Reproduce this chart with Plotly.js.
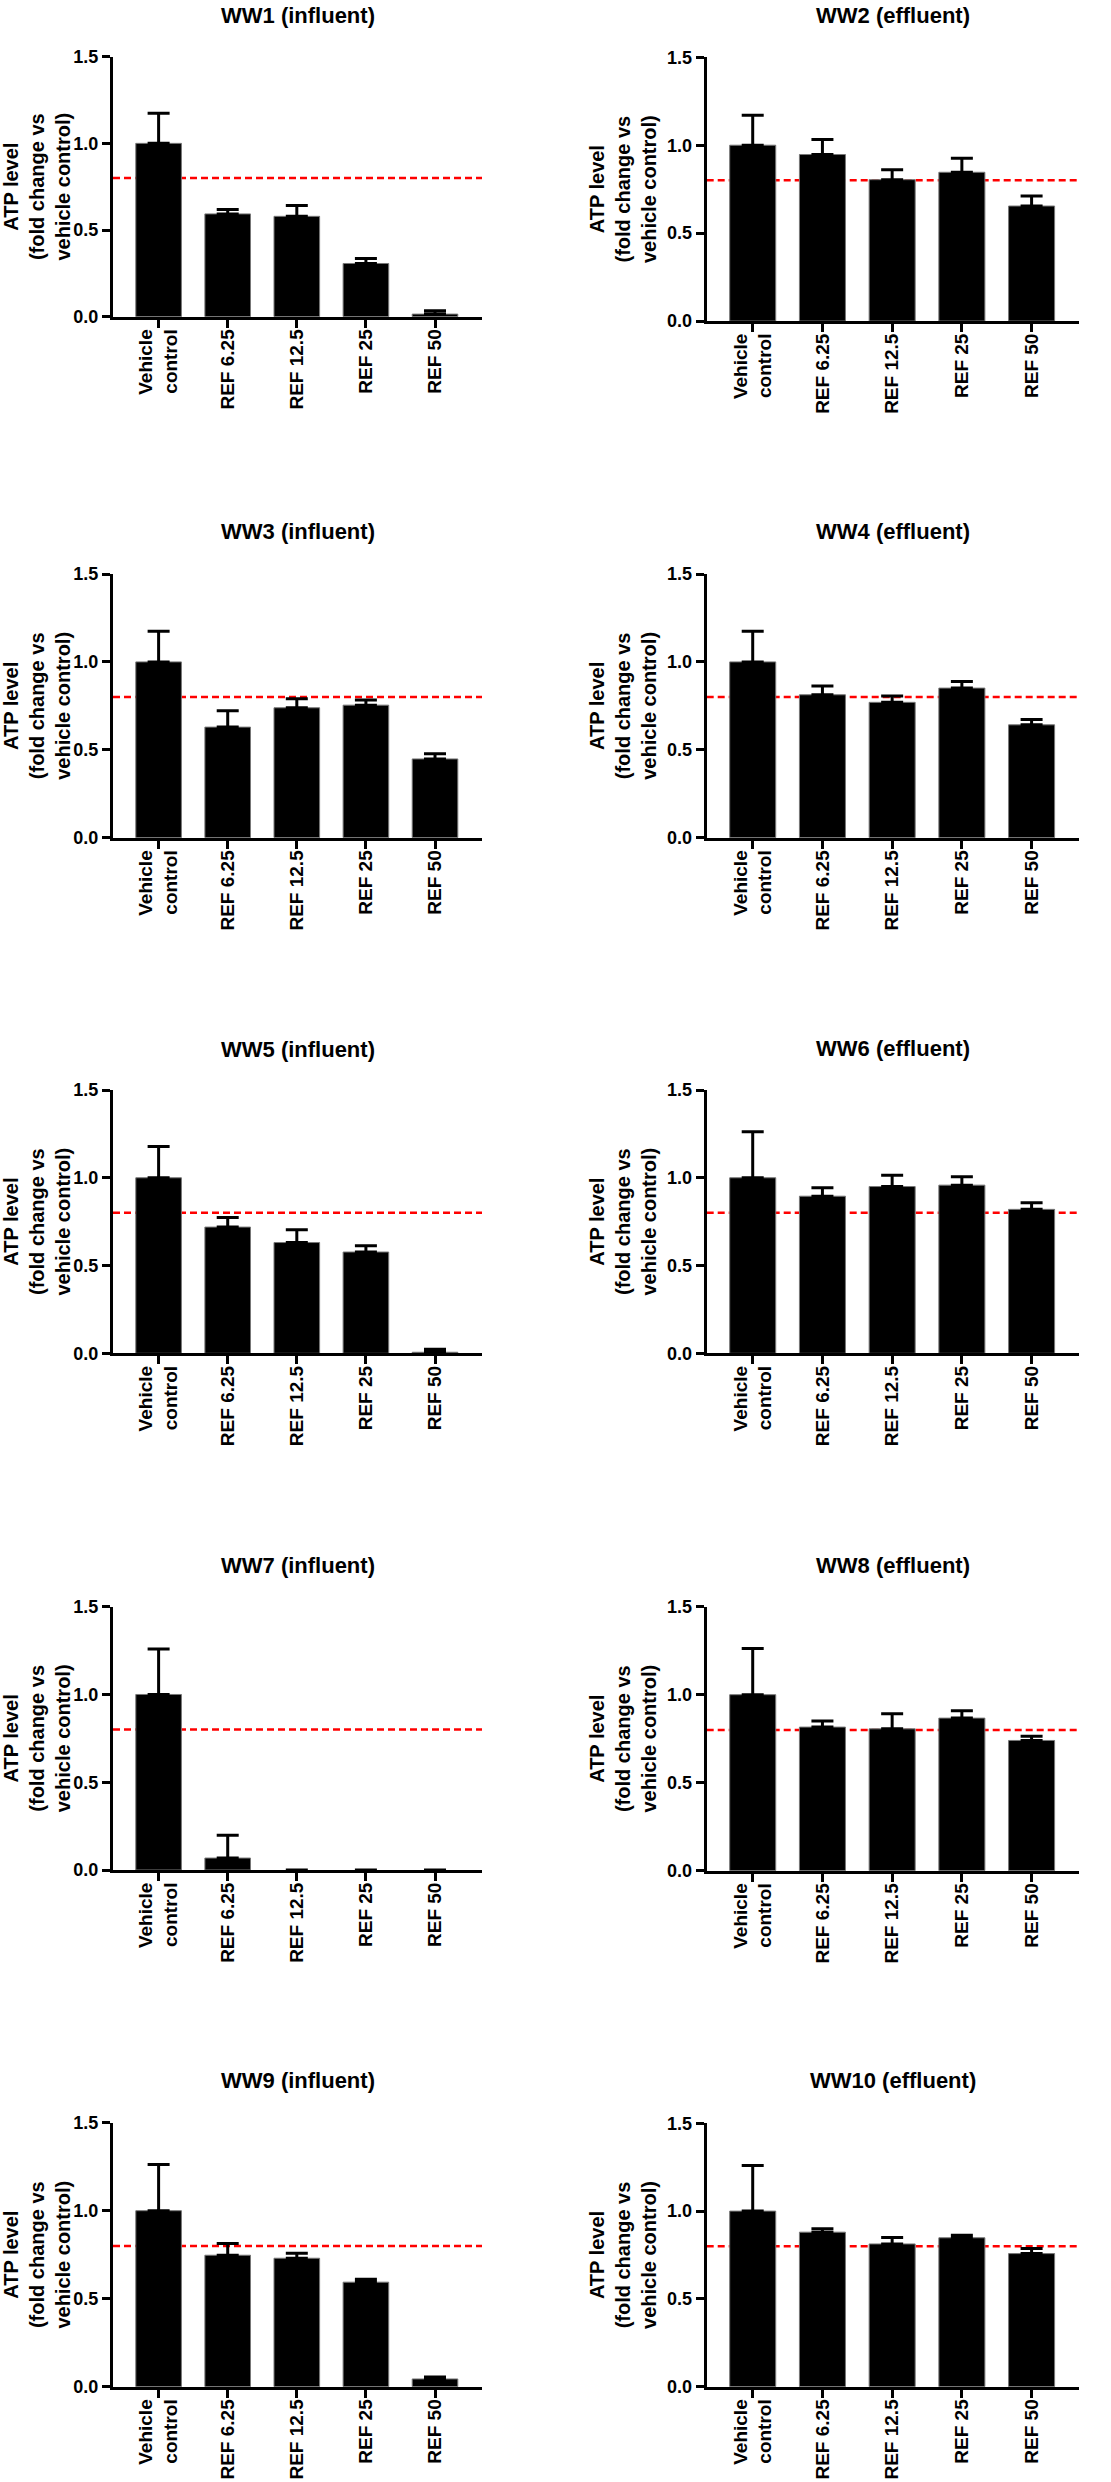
<!DOCTYPE html>
<html>
<head>
<meta charset="utf-8">
<script src="https://cdn.plot.ly/plotly-3.0.1.min.js"></script>
<style>
html,body{margin:0;padding:0;background:#ffffff;}
#chart{width:1111px;height:2482px;}
</style>
</head>
<body>
<div id="chart"></div>
<script>
// ---------------- DATA ----------------
const categories = ['Vehicle<br>control', 'REF 6.25', 'REF 12.5', 'REF 25', 'REF 50'];
const yTickValues = [0, 0.5, 1.0, 1.5];
const yTickLabels = ['0.0', '0.5', '1.0', '1.5'];
const threshold = 0.8;
const yAxisTitle = 'ATP level<br>(fold change vs<br>vehicle control)';
const panelTitles = ['WW1 (influent)', 'WW2 (effluent)', 'WW3 (influent)', 'WW4 (effluent)',
  'WW5 (influent)', 'WW6 (effluent)', 'WW7 (influent)', 'WW8 (effluent)',
  'WW9 (influent)', 'WW10 (effluent)'];

const ww1Values  = [1.00, 0.593, 0.579, 0.307, 0.015];
const ww1Errors  = [0.174, 0.025, 0.062, 0.029, 0.020];
const ww2Values  = [1.00, 0.947, 0.804, 0.846, 0.654];
const ww2Errors  = [0.171, 0.085, 0.057, 0.080, 0.057];
const ww3Values  = [1.00, 0.629, 0.739, 0.754, 0.448];
const ww3Errors  = [0.175, 0.093, 0.051, 0.029, 0.030];
const ww4Values  = [1.00, 0.813, 0.770, 0.851, 0.642];
const ww4Errors  = [0.175, 0.050, 0.036, 0.037, 0.030];
const ww5Values  = [1.00, 0.719, 0.631, 0.577, 0.006];
const ww5Errors  = [0.178, 0.055, 0.073, 0.035, 0.017];
const ww6Values  = [1.00, 0.895, 0.950, 0.958, 0.820];
const ww6Errors  = [0.262, 0.048, 0.065, 0.048, 0.038];
const ww7Values  = [1.00, 0.068, 0, 0, 0];
const ww7Errors  = [0.259, 0.130, null, null, null];
const ww8Values  = [1.00, 0.816, 0.806, 0.867, 0.740];
const ww8Errors  = [0.262, 0.034, 0.086, 0.042, 0.024];
const ww9Values  = [1.00, 0.747, 0.730, 0.594, 0.044];
const ww9Errors  = [0.263, 0.066, 0.028, 0.016, 0.011];
const ww10Values = [1.00, 0.880, 0.813, 0.848, 0.758];
const ww10Errors = [0.259, 0.019, 0.037, 0.015, 0.029];

const seriesValues = [ww1Values, ww2Values, ww3Values, ww4Values, ww5Values,
  ww6Values, ww7Values, ww8Values, ww9Values, ww10Values];
const seriesErrors = [ww1Errors, ww2Errors, ww3Errors, ww4Errors, ww5Errors,
  ww6Errors, ww7Errors, ww8Errors, ww9Errors, ww10Errors];

// ---------------- LAYOUT GEOMETRY (pixels) ----------------
const W = 1111, H = 2482;
const columnPx = [[113, 482], [706.7, 1079]];
const panelPx = [
  {top: 56.7,   bottom: 316.7,  titleY: 15},
  {top: 57.3,   bottom: 321,    titleY: 15},
  {top: 574,    bottom: 837.7,  titleY: 531.7},
  {top: 574,    bottom: 837.7,  titleY: 531.7},
  {top: 1090,   bottom: 1353.3, titleY: 1049},
  {top: 1090,   bottom: 1353.3, titleY: 1048},
  {top: 1606.7, bottom: 1870,   titleY: 1565},
  {top: 1606.7, bottom: 1870.7, titleY: 1565},
  {top: 2122.7, bottom: 2386.7, titleY: 2080},
  {top: 2123.3, bottom: 2386.7, titleY: 2080}
];

const FONT = 'Liberation Sans, Arial, Helvetica, sans-serif';

const data = [];
const layout = {
  width: W, height: H,
  margin: {l: 0, r: 0, t: 0, b: 0},
  paper_bgcolor: '#ffffff',
  plot_bgcolor: 'rgba(0,0,0,0)',
  showlegend: false,
  font: {family: FONT, color: '#000000'},
  shapes: [],
  annotations: []
};

for (let i = 0; i < 10; i++) {
  const n = i + 1;
  const sx = n === 1 ? '' : String(n);
  const col = columnPx[i % 2];
  const p = panelPx[i];
  const xDom = [col[0] / W, col[1] / W];
  const yDom = [1 - p.bottom / H, 1 - p.top / H];

  data.push({
    type: 'bar',
    x: categories,
    y: seriesValues[i],
    xaxis: 'x' + sx,
    yaxis: 'y' + sx,
    width: 0.66,
    marker: {color: '#000000',
             line: {color: '#777777', width: seriesValues[i].map(v => (v > 0 ? 1 : 0))}},
    error_y: {
      type: 'data', symmetric: false,
      array: seriesErrors[i],
      arrayminus: seriesErrors[i].map(e => (e === null ? null : 0)),
      color: '#000000', thickness: 3, width: 11
    },
    hoverinfo: 'none'
  });

  layout['xaxis' + sx] = {
    domain: xDom, anchor: 'y' + sx,
    type: 'category',
    range: [-0.66, 4.68],
    showline: true, linecolor: '#000000', linewidth: 3,
    ticks: 'outside', ticklen: 8, tickwidth: 3, tickcolor: '#000000',
    tickangle: -90,
    ticklabelstandoff: -6,
    tickfont: {family: FONT, size: 19, weight: 'bold', color: '#000000'},
    showgrid: false, zeroline: false, fixedrange: true
  };
  layout['yaxis' + sx] = {
    domain: yDom, anchor: 'x' + sx,
    range: [0, 1.5],
    tickmode: 'array', tickvals: yTickValues, ticktext: yTickLabels,
    showline: true, linecolor: '#000000', linewidth: 3,
    ticks: 'outside', ticklen: 8, tickwidth: 3, tickcolor: '#000000',
    tickfont: {family: FONT, size: 18, weight: 'bold', color: '#000000'},
    showgrid: false, zeroline: false, fixedrange: true,
    title: {text: yAxisTitle, standoff: 6,
            font: {family: FONT, size: 20, weight: 'bold', color: '#000000'}}
  };

  layout.shapes.push({
    type: 'line', layer: 'below',
    xref: 'x' + sx + ' domain', yref: 'y' + sx,
    x0: 0, x1: 1, y0: threshold, y1: threshold,
    line: {color: '#ff0000', width: 2.5, dash: '7px,4px'}
  });

  layout.annotations.push({
    text: panelTitles[i],
    xref: 'paper', yref: 'paper',
    x: (xDom[0] + xDom[1]) / 2, y: 1 - p.titleY / H,
    xanchor: 'center', yanchor: 'middle',
    showarrow: false,
    font: {family: FONT, size: 22, weight: 'bold', color: '#000000'}
  });
}

Plotly.newPlot('chart', data, layout, {displayModeBar: false, staticPlot: true});
</script>
</body>
</html>
